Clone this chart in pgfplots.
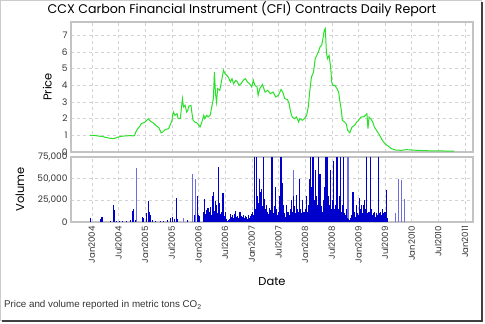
\documentclass[border=0pt]{standalone}
\usepackage{pgfplots}
\pgfplotsset{compat=1.18}
\usepackage{fontspec}
\setmainfont{Poppins}
\newfontfamily\arialfont{Liberation Sans}
\definecolor{pricegreen}{RGB}{40,225,40}
\definecolor{volblue}{RGB}{0,0,205}
\definecolor{vollight}{RGB}{110,110,225}
\definecolor{framegray}{RGB}{195,195,195}
\definecolor{gridgray}{RGB}{210,210,210}
\begin{document}
\begin{tikzpicture}
\useasboundingbox (0pt,0pt) rectangle (485pt,324pt);
\draw[gray!40] (0.5pt,4pt) rectangle (481pt,323.5pt);
\draw[black!75, line width=1.5pt] (2pt,3.2pt) -- (482pt,3.2pt) -- (482pt,322pt);
\node[font=\fontsize{12.6}{14}\selectfont] at (242pt,315pt) {CCX Carbon Financial Instrument (CFI) Contracts Daily Report};
\node[anchor=west, font=\arialfont\fontsize{9.8}{11}\selectfont, text=black!80] at (0.5pt,19pt) {Price and volume reported in metric tons CO\textsubscript{2}};
\pgfplotsset{
  common/.style={
    scale only axis, width=402pt,
    xmin=2003.61, xmax=2011.15,
    xtick={2004,2004.5,2005,2005.5,2006,2006.5,2007,2007.5,2008,2008.5,2009,2009.5,2010,2010.5,2011},
    grid=major,
    major grid style={gridgray, dashed, line width=0.4pt},
    axis line style={framegray, line width=1.3pt},
    major tick length=0pt,
    tick label style={font=\fontsize{9}{10}\selectfont, text=black!80},
    /pgf/number format/assume math mode=true,
    label style={font=\fontsize{11.5}{13}\selectfont},
    clip=true,
  }
}
\begin{axis}[common, at={(71pt,172pt)}, anchor=south west, height=130pt,
  ymin=0, ymax=7.8, ytick={0,1,2,3,4,5,6,7},
  xticklabels={},
  ylabel={Price}, ylabel style={at={(axis description cs:-0.059,0.5)}, anchor=center},
]
\addplot[pricegreen, line width=1pt] coordinates {
(2003.97,1.00)(2004.05,0.99)(2004.12,0.96)(2004.2,0.93)(2004.28,0.86)(2004.35,0.82)(2004.4,0.80)(2004.45,0.84)(2004.5,0.9)(2004.57,0.95)(2004.65,0.97)(2004.72,0.98)(2004.78,0.97)(2004.8,1.0)(2004.84,1.3)(2004.9,1.55)(2004.93,1.7)(2004.97,1.75)(2005.0,1.8)(2005.03,1.9)(2005.06,2.0)(2005.1,1.85)(2005.15,1.75)(2005.2,1.6)(2005.26,1.45)(2005.28,1.3)(2005.3,1.15)(2005.33,1.2)(2005.38,1.35)(2005.44,1.4)(2005.5,1.85)(2005.53,2.4)(2005.56,2.2)(2005.6,2.3)(2005.62,2.0)(2005.66,2.0)(2005.68,2.6)(2005.7,3.2)(2005.72,2.7)(2005.75,2.8)(2005.78,2.4)(2005.8,2.5)(2005.82,2.75)(2005.86,2.8)(2005.88,2.3)(2005.9,1.9)(2005.93,1.8)(2005.97,1.75)(2006.0,1.65)(2006.03,1.5)(2006.06,1.75)(2006.1,2.2)(2006.12,2.0)(2006.15,2.2)(2006.18,2.1)(2006.22,2.2)(2006.25,2.7)(2006.28,3.2)(2006.3,4.8)(2006.32,3.5)(2006.34,3.0)(2006.36,3.8)(2006.4,3.7)(2006.43,4.2)(2006.47,4.9)(2006.5,4.7)(2006.53,4.6)(2006.56,4.5)(2006.6,4.2)(2006.63,4.4)(2006.66,4.1)(2006.7,4.3)(2006.73,4.2)(2006.76,4.0)(2006.8,4.1)(2006.84,4.3)(2006.88,4.4)(2006.92,4.2)(2006.96,4.1)(2007.0,3.9)(2007.03,4.3)(2007.06,4.0)(2007.1,3.9)(2007.12,3.4)(2007.15,3.8)(2007.2,4.05)(2007.25,3.6)(2007.3,3.7)(2007.35,3.5)(2007.4,3.6)(2007.45,3.3)(2007.5,3.4)(2007.55,3.75)(2007.58,3.6)(2007.62,3.2)(2007.67,3.15)(2007.7,2.9)(2007.73,2.4)(2007.76,2.1)(2007.8,2.0)(2007.84,2.1)(2007.88,1.8)(2007.9,2.0)(2007.95,1.9)(2008.0,2.05)(2008.03,2.2)(2008.06,2.7)(2008.09,3.7)(2008.12,4.5)(2008.16,4.8)(2008.19,5.6)(2008.22,5.8)(2008.25,6.0)(2008.28,6.3)(2008.31,6.4)(2008.33,6.7)(2008.36,7.3)(2008.38,7.4)(2008.4,6.0)(2008.42,5.6)(2008.45,5.8)(2008.48,5.1)(2008.5,4.2)(2008.52,4.0)(2008.56,4.0)(2008.6,3.8)(2008.63,3.6)(2008.65,3.1)(2008.68,2.5)(2008.7,1.9)(2008.74,1.8)(2008.77,1.7)(2008.8,1.3)(2008.84,1.15)(2008.88,1.5)(2008.93,1.6)(2008.97,1.8)(2009.0,1.9)(2009.05,2.1)(2009.1,2.1)(2009.13,2.2)(2009.16,2.3)(2009.18,1.4)(2009.2,2.1)(2009.23,2.0)(2009.27,1.8)(2009.3,1.5)(2009.35,1.25)(2009.4,1.0)(2009.45,0.7)(2009.5,0.5)(2009.56,0.35)(2009.62,0.2)(2009.7,0.12)(2009.8,0.1)(2009.9,0.14)(2010.0,0.12)(2010.1,0.1)(2010.2,0.08)(2010.4,0.07)(2010.6,0.06)(2010.8,0.05)
};
\end{axis}
\begin{axis}[common, at={(71pt,102pt)}, anchor=south west, height=65pt,
  ymin=0, ymax=75000, ytick={0,25000,50000,75000}, scaled y ticks=false,
  yticklabel style={/pgf/number format/.cd, 1000 sep={,}},
  xticklabels={Jan2004,Jul2004,Jan2005,Jul2005,Jan2006,Jul2006,Jan2007,Jul2007,Jan2008,Jul2008,Jan2009,Jul2009,Jan2010,Jul2010,Jan2011},
  xticklabel style={rotate=90, anchor=east, font=\fontsize{8.6}{9}\selectfont, inner sep=4pt},
  xlabel={Date}, xlabel style={at={(axis description cs:0.5,-0.92)}, anchor=center},
  ylabel={Volume}, ylabel style={at={(axis description cs:-0.127,0.5)}, anchor=center},
]
% light bars
\addplot[ycomb, vollight, line width=1pt, mark=none] coordinates {
(2004.84,62000)(2005.88,55000)(2005.94,50000)(2007.15,50000)(2007.78,60000)(2008.80,75000)(2008.82,75000)(2009.69,10000)(2009.75,50000)(2009.81,48000)(2009.87,27000)(2005.72,5000)
};
% early sparse bars
\addplot[ycomb, volblue, line width=0.8pt, mark=none] coordinates {
(2003.98,5000)(2004.16,4000)(2004.18,5500)(2004.2,5500)(2004.35,1500)(2004.41,20000)(2004.43,14000)(2004.47,1500)(2004.52,1000)(2004.58,1500)(2004.65,1500)(2004.72,2000)(2004.76,13000)(2004.78,15000)(2004.81,2000)(2004.94,6000)(2004.96,5000)
(2005.03,10000)(2005.06,24000)(2005.08,12000)(2005.1,8000)(2005.14,2000)(2005.2,1500)(2005.28,1000)(2005.35,1500)(2005.42,2000)(2005.48,5000)(2005.52,6000)(2005.55,4000)(2005.58,28000)(2005.6,3000)(2005.8,2000)(2005.93,8000)(2005.98,30000)(2006.0,8000)(2006.02,7000)
};
% dense bars
\addplot[ycomb, volblue, line width=1.1pt, mark=none] coordinates {
(2006.10,12000)(2006.12,26000)(2006.14,9000)(2006.16,14000)(2006.18,16000)(2006.20,11000)(2006.22,17000)(2006.24,8000)(2006.26,30000)(2006.28,35000)(2006.30,13000)(2006.32,24000)(2006.34,20000)(2006.36,10000)(2006.375,64000)(2006.38,15000)(2006.40,22000)(2006.42,9000)(2006.44,12000)(2006.46,34000)(2006.48,7000)(2006.50,12000)(2006.52,4000)(2006.54,1500)(2006.56,2000)(2006.58,3000)(2006.60,9000)(2006.62,6000)(2006.64,8000)(2006.66,5000)(2006.68,9000)(2006.70,13000)(2006.72,6000)(2006.74,7000)(2006.76,5000)(2006.78,12000)(2006.80,7000)(2006.82,6000)(2006.84,8000)(2006.86,5000)(2006.88,7000)(2006.90,6000)(2006.92,4000)(2006.94,8000)(2006.96,5000)(2006.98,7000)
(2007.00,9000)(2007.02,12000)(2007.04,8000)(2007.06,75000)(2007.08,15000)(2007.09,75000)(2007.10,30000)(2007.12,22000)(2007.14,50000)(2007.16,35000)(2007.18,38000)(2007.20,18000)(2007.22,75000)(2007.24,26000)(2007.26,15000)(2007.28,20000)(2007.30,12000)(2007.32,9000)(2007.34,16000)(2007.36,14000)(2007.38,75000)(2007.40,10000)(2007.42,18000)(2007.44,40000)(2007.46,15000)(2007.48,8000)(2007.50,12000)(2007.52,30000)(2007.54,75000)(2007.56,75000)(2007.58,45000)(2007.60,20000)(2007.62,10000)(2007.64,6000)(2007.66,20000)(2007.68,12000)(2007.70,8000)(2007.72,15000)(2007.74,25000)(2007.76,12000)(2007.78,30000)(2007.80,18000)(2007.82,10000)(2007.84,31000)(2007.86,15000)(2007.88,12000)(2007.90,50000)(2007.92,15000)(2007.94,10000)(2007.96,25000)(2007.98,12000)
(2008.00,15000)(2008.02,30000)(2008.04,12000)(2008.06,20000)(2008.08,50000)(2008.10,75000)(2008.12,40000)(2008.14,75000)(2008.16,75000)(2008.18,25000)(2008.20,60000)(2008.22,30000)(2008.24,20000)(2008.26,75000)(2008.28,55000)(2008.30,18000)(2008.32,12000)(2008.34,25000)(2008.36,40000)(2008.38,75000)(2008.40,75000)(2008.42,75000)(2008.44,30000)(2008.46,20000)(2008.48,60000)(2008.50,15000)(2008.52,25000)(2008.54,70000)(2008.56,15000)(2008.58,20000)(2008.60,75000)(2008.62,15000)(2008.64,30000)(2008.66,75000)(2008.68,12000)(2008.70,20000)(2008.72,75000)(2008.74,10000)(2008.76,8000)(2008.78,15000)(2008.80,5000)(2008.82,3000)(2008.84,2000)(2008.86,5000)(2008.88,8000)(2008.90,35000)(2008.92,12000)(2008.94,6000)(2008.96,20000)(2008.98,10000)
(2009.00,8000)(2009.02,28000)(2009.04,15000)(2009.06,20000)(2009.08,10000)(2009.10,20000)(2009.12,25000)(2009.14,15000)(2009.16,75000)(2009.18,10000)(2009.20,12000)(2009.22,75000)(2009.24,15000)(2009.26,8000)(2009.28,10000)(2009.30,12000)(2009.32,6000)(2009.34,10000)(2009.36,8000)(2009.38,75000)(2009.40,10000)(2009.42,12000)(2009.44,8000)(2009.46,15000)(2009.48,10000)(2009.50,12000)(2009.52,37000)(2009.54,5000)
};
\end{axis}
\end{tikzpicture}
\end{document}
